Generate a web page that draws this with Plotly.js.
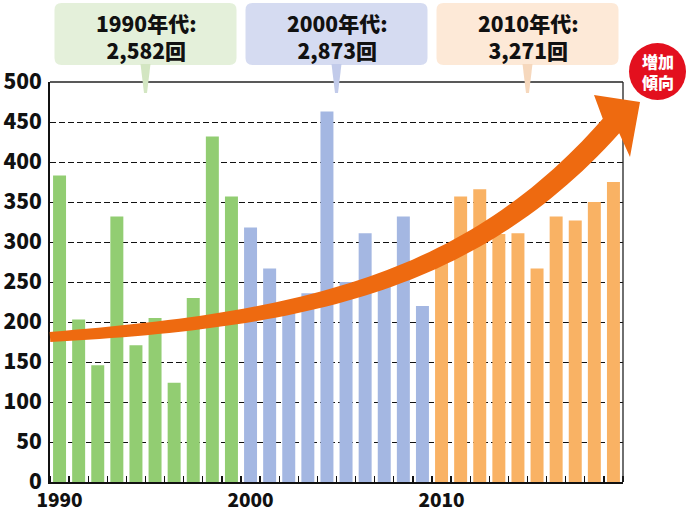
<!DOCTYPE html>
<html>
<head>
<meta charset="utf-8">
<script src="https://cdn.plot.ly/plotly-3.0.1.min.js"></script>
<style>html,body{margin:0;padding:0;background:#fff;}#chart{width:696px;height:510px;}</style>
</head>
<body>
<div id="chart"></div>
<script>
// ---- data ----
const years1990s = [1990,1991,1992,1993,1994,1995,1996,1997,1998,1999];
const counts1990s = [383,203,146,332,171,205,124,230,432,357];
const years2000s = [2000,2001,2002,2003,2004,2005,2006,2007,2008,2009];
const counts2000s = [318,267,225,236,463,250,311,251,332,220];
const years2010s = [2010,2011,2012,2013,2014,2015,2016,2017,2018,2019];
const counts2010s = [276,357,366,310,311,267,332,327,350,375];
const decadeLabels = ['1990年代:','2000年代:','2010年代:'];
const decadeTotals = ['2,582回','2,873回','3,271回'];
const decadeCenters = [1994.5, 2004.5, 2014.5];
const xTickVals = [1990, 2000, 2010];
const xTickText = ['1990', '2000', '2010'];
const yTickVals = [0,50,100,150,200,250,300,350,400,450,500];
const badgeLines = ['増加', '傾向'];

// ---- styles ----
const FONT = '"Noto Sans CJK JP", "Noto Sans", sans-serif';
const barColors = ['#92cd72', '#a4b7e2', '#f9b264'];
const boxColors = ['#e4f0da', '#d5dbf1', '#fde9d7'];
const pointerColors = ['#d3e6c2', '#c2cbea', '#f6d8bd'];
const arrowColor = '#ee6a10';
const badgeColor = '#e3101e';

const W = 696, H = 510;
const M = {l: 50, r: 73, t: 82, b: 28};
const PW = W - M.l - M.r, PH = H - M.t - M.b;
const XR = [1989.5, 2019.5];
// pixel -> paper helpers for decorations
const PX = px => (px - M.l) / PW;
const PY = py => (H - M.b - py) / PH;
const dataX = v => (v - XR[0]) / (XR[1] - XR[0]);

function bar(x, y, c) {
  return {type: 'bar', x: x, y: y, marker: {color: c, line: {width: 0}}, hoverinfo: 'x+y'};
}
const traces = [
  bar(years1990s, counts1990s, barColors[0]),
  bar(years2000s, counts2000s, barColors[1]),
  bar(years2010s, counts2010s, barColors[2])
];

const shapes = [];
const annotations = [];

function roundRect(x0, y0, x1, y1, r) {
  const p = (x, y) => PX(x) + ',' + PY(y);
  return 'M' + p(x0 + r, y0) + ' L' + p(x1 - r, y0) +
    ' Q' + p(x1, y0) + ' ' + p(x1, y0 + r) +
    ' L' + p(x1, y1 - r) + ' Q' + p(x1, y1) + ' ' + p(x1 - r, y1) +
    ' L' + p(x0 + r, y1) + ' Q' + p(x0, y1) + ' ' + p(x0, y1 - r) +
    ' L' + p(x0, y0 + r) + ' Q' + p(x0, y0) + ' ' + p(x0 + r, y0) + ' Z';
}

// top/right border
shapes.push({type: 'line', xref: 'paper', yref: 'paper', x0: 0, x1: 1, y0: 1, y1: 1, line: {color: '#222', width: 1.3}, layer: 'above'});
shapes.push({type: 'line', xref: 'paper', yref: 'paper', x0: 1, x1: 1, y0: 0, y1: 1, line: {color: '#222', width: 1.3}, layer: 'above'});

// decade boxes
decadeCenters.forEach((c, i) => {
  const cx = M.l + dataX(c) * PW;
  const half = 91;
  shapes.push({type: 'path', xref: 'paper', yref: 'paper', path: roundRect(cx - half, 3, cx + half, 65, 7),
    fillcolor: boxColors[i], line: {width: 0}, layer: 'above'});
  const p = (x, y) => PX(x) + ',' + PY(y);
  shapes.push({type: 'path', xref: 'paper', yref: 'paper',
    path: 'M' + p(cx - 5, 64) + ' L' + p(cx + 5, 64) + ' L' + p(cx + 1.5, 93) + ' L' + p(cx - 1.5, 93) + ' Z',
    fillcolor: pointerColors[i], line: {width: 0}, layer: 'above'});
  annotations.push({xref: 'paper', yref: 'paper', x: PX(cx + 1), y: PY(36), text: decadeLabels[i] + '<br>' + decadeTotals[i],
    showarrow: false, align: 'center',
    xanchor: 'center', yanchor: 'middle', font: {family: FONT, size: 21, color: '#111', weight: 900}});
});

// trend arrow (decoration)
(function () {
  const P = [[50, 337], [300, 320], [470, 285], [611, 126]];
  const N = 60, up = [], lo = [];
  for (let k = 0; k <= N; k++) {
    const t = k / N, u = 1 - t;
    const x = u*u*u*P[0][0] + 3*u*u*t*P[1][0] + 3*u*t*t*P[2][0] + t*t*t*P[3][0];
    const y = u*u*u*P[0][1] + 3*u*u*t*P[1][1] + 3*u*t*t*P[2][1] + t*t*t*P[3][1];
    const dx = 3*u*u*(P[1][0]-P[0][0]) + 6*u*t*(P[2][0]-P[1][0]) + 3*t*t*(P[3][0]-P[2][0]);
    const dy = 3*u*u*(P[1][1]-P[0][1]) + 6*u*t*(P[2][1]-P[1][1]) + 3*t*t*(P[3][1]-P[2][1]);
    const L = Math.hypot(dx, dy), nx = -dy / L, ny = dx / L;
    const w = (10 + 12 * Math.pow(t, 0.8)) / 2;
    up.push([x - nx * w, y - ny * w]);
    lo.push([x + nx * w, y + ny * w]);
  }
  const pts = [].concat(up, [[594, 95], [640, 102], [630, 157]], lo.reverse());
  const path = 'M' + pts.map(q => PX(q[0]) + ',' + PY(q[1])).join(' L') + ' Z';
  shapes.push({type: 'path', xref: 'paper', yref: 'paper', path: path, fillcolor: arrowColor, line: {width: 0}, layer: 'above'});
})();

// badge
shapes.push({type: 'circle', xref: 'paper', yref: 'paper', x0: PX(629), x1: PX(686), y0: PY(100), y1: PY(43),
  fillcolor: badgeColor, line: {width: 0}, layer: 'above'});
annotations.push({xref: 'paper', yref: 'paper', x: PX(658), y: PY(71.5), text: badgeLines.join('<br>'), showarrow: false,
  align: 'center', xanchor: 'center', yanchor: 'middle', font: {family: FONT, size: 16, color: '#fff', weight: 900}});

const layout = {
  width: W, height: H,
  margin: {l: M.l, r: M.r, t: M.t, b: M.b, pad: 0},
  paper_bgcolor: '#fff', plot_bgcolor: '#fff',
  barmode: 'overlay', bargap: 0.32,
  showlegend: false,
  font: {family: FONT, color: '#111'},
  xaxis: {
    range: XR, tickmode: 'array', tickvals: xTickVals, ticktext: xTickText,
    ticks: '', showgrid: false, zeroline: false,
    showline: true, linecolor: '#111', linewidth: 2,
    tickfont: {family: FONT, size: 19, color: '#111', weight: 900},
    ticklabelstandoff: 0,
    minor: {tickmode: 'linear', tick0: 1989.5, dtick: 1, ticks: 'inside', ticklen: 6, tickwidth: 1.3, tickcolor: '#111', showgrid: false},
    fixedrange: true
  },
  yaxis: {
    range: [0, 500], tickmode: 'array', tickvals: yTickVals,
    ticks: '', showgrid: true, gridcolor: '#111', gridwidth: 1, griddash: '6px,3px',
    zeroline: false, showline: true, linecolor: '#111', linewidth: 2,
    tickfont: {family: FONT, size: 21, color: '#111', weight: 900},
    ticklabelstandoff: 2,
    fixedrange: true
  },
  shapes: shapes,
  annotations: annotations
};

Plotly.newPlot('chart', traces, layout, {displayModeBar: false, staticPlot: true});
</script>
</body>
</html>
